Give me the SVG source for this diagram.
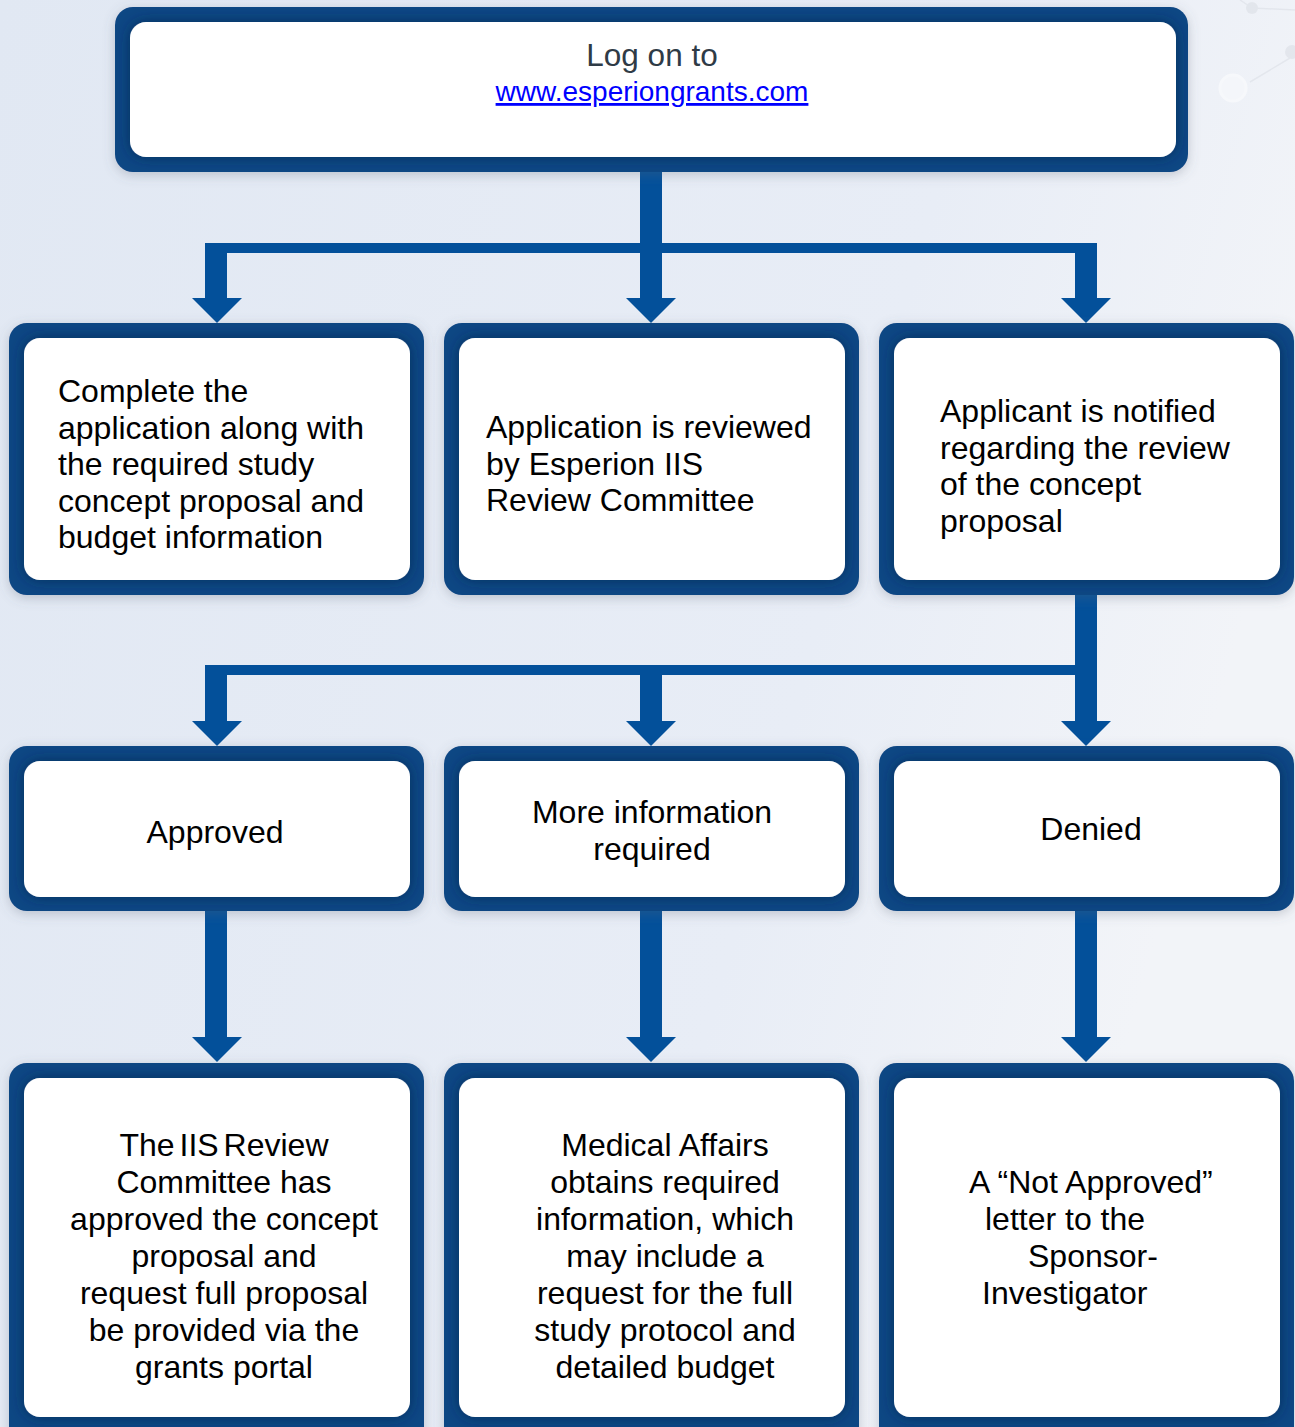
<svg xmlns="http://www.w3.org/2000/svg" width="1295" height="1427" viewBox="0 0 1295 1427">
<defs>
<linearGradient id="bg" x1="0" y1="0" x2="1" y2="0.3">
<stop offset="0" stop-color="#e1e8f3"/>
<stop offset="0.7" stop-color="#e8edf6"/>
<stop offset="1" stop-color="#f2f4f8"/>
</linearGradient>
<filter id="sh" x="-5%" y="-10%" width="110%" height="120%">
<feDropShadow dx="0" dy="3" stdDeviation="6" flood-color="#5a6578" flood-opacity="0.3"/>
</filter>
<filter id="in" x="-5%" y="-10%" width="110%" height="120%">
<feDropShadow dx="0" dy="0" stdDeviation="7" flood-color="#0a2a50" flood-opacity="0.75"/>
</filter>
<style>
.o{fill:#0a4784;filter:url(#sh)}
.i{fill:#ffffff;filter:url(#in)}
.t{font-family:"Liberation Sans",Arial,sans-serif;font-size:32px;fill:#000}
.c{text-anchor:middle}
.a{fill:#03509a}
</style>
</defs>
<rect width="1295" height="1427" fill="url(#bg)"/>
<g opacity="0.5" fill="#d8dce3" stroke="#d8dce3" stroke-width="1.5">
<line x1="1240" y1="0" x2="1252" y2="8"/>
<line x1="1252" y1="8" x2="1295" y2="10"/>
<line x1="1250" y1="82" x2="1290" y2="58"/>
<circle cx="1252" cy="8" r="6" stroke="none"/>
<circle cx="1292" cy="52" r="7" stroke="none"/>
<circle cx="1233" cy="88" r="13" fill="#fafbfd" stroke="#ffffff" stroke-width="3"/>
</g>

<g id="connectors">
<path class="a" d="M640,172 H662 V243 H1097 V298 H1111 L1086,323 L1061,298 H1075 V253 H662 V298 H676 L651,323 L626,298 H640 V253 H227 V298 H242 L217,323 L192,298 H205 V243 H640 Z"/>
<path class="a" d="M1075,595 H1097 V721 H1111 L1086,746 L1061,721 H1075 V675 H662 V721 H676 L651,746 L626,721 H640 V675 H227 V721 H242 L217,746 L192,721 H205 V665 H1075 Z"/>
<path class="a" d="M205,911 H227 V1037 H242 L217,1062 L192,1037 H205 Z"/>
<path class="a" d="M640,911 H662 V1037 H676 L651,1062 L626,1037 H640 Z"/>
<path class="a" d="M1075,911 H1097 V1037 H1111 L1086,1062 L1061,1037 H1075 Z"/>
</g>

<g id="n-logon">
<rect class="o" x="115" y="7" width="1073" height="165" rx="18"/>
<rect class="i" x="130" y="22" width="1046" height="135" rx="16"/>
<text class="t c" x="652" y="66" style="fill:#2f3b46;font-size:31.5px">Log on to</text>
<text class="t c" x="652" y="101" style="fill:#0000ff;font-size:28px;text-decoration:underline">www.esperiongrants.com</text>
</g>

<g id="n-complete">
<rect class="o" x="9" y="323" width="415" height="272" rx="18"/>
<rect class="i" x="24" y="338" width="386" height="242" rx="16"/>
<text class="t" x="58" y="402">Complete the</text>
<text class="t" x="58" y="438.5">application along with</text>
<text class="t" x="58" y="475">the required study</text>
<text class="t" x="58" y="511.5">concept proposal and</text>
<text class="t" x="58" y="548">budget information</text>
</g>

<g id="n-reviewed">
<rect class="o" x="444" y="323" width="415" height="272" rx="18"/>
<rect class="i" x="459" y="338" width="386" height="242" rx="16"/>
<text class="t" x="486" y="438">Application is reviewed</text>
<text class="t" x="486" y="475">by Esperion IIS</text>
<text class="t" x="486" y="511">Review Committee</text>
</g>

<g id="n-notified">
<rect class="o" x="879" y="323" width="415" height="272" rx="18"/>
<rect class="i" x="894" y="338" width="386" height="242" rx="16"/>
<text class="t" x="940" y="422">Applicant is notified</text>
<text class="t" x="940" y="458.5">regarding the review</text>
<text class="t" x="940" y="495">of the concept</text>
<text class="t" x="940" y="531.5">proposal</text>
</g>

<g id="n-approved">
<rect class="o" x="9" y="746" width="415" height="165" rx="18"/>
<rect class="i" x="24" y="761" width="386" height="136" rx="16"/>
<text class="t c" x="215" y="843">Approved</text>
</g>

<g id="n-moreinfo">
<rect class="o" x="444" y="746" width="415" height="165" rx="18"/>
<rect class="i" x="459" y="761" width="386" height="136" rx="16"/>
<text class="t c" x="652" y="823">More information</text>
<text class="t c" x="652" y="860">required</text>
</g>

<g id="n-denied">
<rect class="o" x="879" y="746" width="415" height="165" rx="18"/>
<rect class="i" x="894" y="761" width="386" height="136" rx="16"/>
<text class="t c" x="1091" y="840">Denied</text>
</g>

<g id="n-fullproposal">
<rect class="o" x="9" y="1063" width="415" height="390" rx="18"/>
<rect class="i" x="24" y="1078" width="386" height="339" rx="16"/>
<text class="t c" x="224" y="1156" word-spacing="-4">The IIS Review</text>
<text class="t c" x="224" y="1193">Committee has</text>
<text class="t c" x="224" y="1230">approved the concept</text>
<text class="t c" x="224" y="1267">proposal and</text>
<text class="t c" x="224" y="1304">request full proposal</text>
<text class="t c" x="224" y="1341">be provided via the</text>
<text class="t c" x="224" y="1378">grants portal</text>
</g>

<g id="n-medaffairs">
<rect class="o" x="444" y="1063" width="415" height="390" rx="18"/>
<rect class="i" x="459" y="1078" width="386" height="339" rx="16"/>
<text class="t c" x="665" y="1156">Medical Affairs</text>
<text class="t c" x="665" y="1193">obtains required</text>
<text class="t c" x="665" y="1230">information, which</text>
<text class="t c" x="665" y="1267">may include a</text>
<text class="t c" x="665" y="1304">request for the full</text>
<text class="t c" x="665" y="1341">study protocol and</text>
<text class="t c" x="665" y="1378">detailed budget</text>
</g>

<g id="n-notapproved">
<rect class="o" x="879" y="1063" width="415" height="390" rx="18"/>
<rect class="i" x="894" y="1078" width="386" height="339" rx="16"/>
<text class="t" x="969" y="1193">A “Not Approved”</text>
<text class="t" x="985" y="1230">letter to the</text>
<text class="t" x="1028" y="1267">Sponsor-</text>
<text class="t" x="982" y="1304">Investigator</text>
</g>
</svg>
